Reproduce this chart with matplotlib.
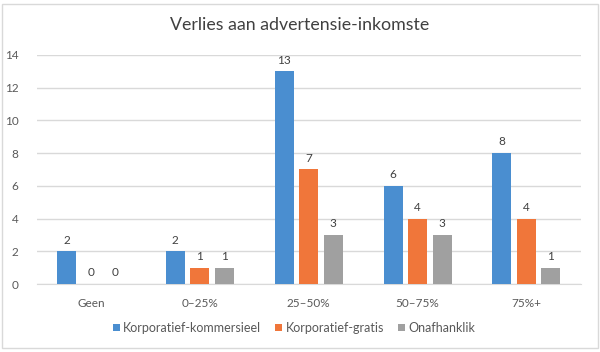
import numpy as np
import matplotlib
matplotlib.use("Agg")
import matplotlib.pyplot as plt
from matplotlib.patches import Rectangle

plt.rcParams['font.family'] = ['Lato', 'DejaVu Sans']

# data
categories = ["Geen", "0\u201325%", "25\u201350%", "50\u201375%", "75%+"]
kommersieel = [2, 2, 13, 6, 8]
gratis = [0, 1, 7, 4, 4]
onafhanklik = [0, 1, 3, 3, 1]

series = {
    "Korporatief-kommersieel": kommersieel,
    "Korporatief-gratis": gratis,
    "Onafhanklik": onafhanklik,
}
colors = ["#4A8ED0", "#F0763A", "#A0A0A0"]

fig = plt.figure(figsize=(6, 3.52), dpi=100)
ax = fig.add_axes([0.061, 0.193, 0.907, 0.651])

# chart border
fig.patches.append(Rectangle((0.004, 0.012), 0.992, 0.978, transform=fig.transFigure,
                             fill=False, edgecolor="#D9D9D9", linewidth=1))

x = np.arange(len(categories))
bar_w = 0.175
step = 0.225
handles = []
for i, (name, vals) in enumerate(series.items()):
    off = (i - 1) * step
    bars = ax.bar(x + off, vals, width=bar_w, color=colors[i], label=name, zorder=3)
    handles.append(bars)
    for xi, v in zip(x + off, vals):
        ax.text(xi, v + 0.35, str(v), ha="center", va="bottom", fontsize=8.5, color="#404040")

ax.set_xlim(-0.5, len(categories) - 0.5)
ax.set_ylim(0, 14)
ax.set_yticks(range(0, 15, 2))
ax.set_xticks(x)
ax.set_xticklabels(categories)
ax.tick_params(axis="both", length=0, labelsize=8.5, labelcolor="#595959")
ax.tick_params(axis="x", pad=10)
ax.tick_params(axis="y", pad=13)
for lab in ax.get_yticklabels():
    lab.set_horizontalalignment("right")
ax.yaxis.grid(True, color="#D9D9D9", linewidth=1, zorder=0)
for s in ["top", "right", "left"]:
    ax.spines[s].set_visible(False)
ax.spines["bottom"].set_color("#D9D9D9")
ax.set_axisbelow(True)

fig.text(0.5, 0.928, "Verlies aan advertensie-inkomste", ha="center", va="center",
         fontsize=12.8, color="#404040")

fig.legend(handles=handles, loc="center", bbox_to_anchor=(0.49, 0.068), ncol=3, frameon=False,
           fontsize=9, handlelength=0.55, handleheight=0.55, handletextpad=0.3,
           columnspacing=1.1, labelcolor="#595959")

fig.savefig("out.png", dpi=100)
